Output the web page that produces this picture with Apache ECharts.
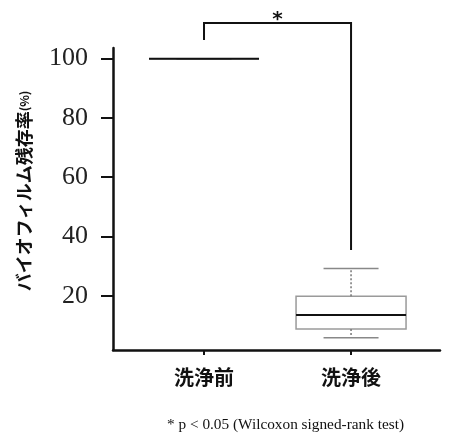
<!DOCTYPE html>
<html>
<head>
<meta charset="utf-8">
<script src="https://cdn.jsdelivr.net/npm/echarts@6/dist/echarts.min.js"></script>
<style>html,body{margin:0;padding:0;background:#fff}#c{width:449px;height:439px}</style>
</head>
<body>
<div id="c"></div>
<script>
const categories = ['洗浄前', '洗浄後'];
// [min, Q1, median, Q3, max]
const boxStats = [[100, 100, 100, 100, 100], [5.8, 8.8, 13.5, 19.8, 29.2]];
const yTicks = [20, 40, 60, 80, 100];
// significance bracket path in data space [categoryIndex, value]
const bracket = [[0, 106.3], [0, 112], [1, 112], [1, 35.4]];
const sigMark = '*';
const yName = 'バイオフィルム残存率';
const yUnit = '(%)';
const footnote = '* p < 0.05 (Wilcoxon signed-rank test)';

const chart = echarts.init(document.getElementById('c'), null, {renderer: 'canvas'});

const boxData = boxStats.map((s, i) => [i].concat(s));

chart.setOption({
  animation: false,
  backgroundColor: '#fff',
  grid: {left: 113, right: 9, top: 48, bottom: 89},
  xAxis: {
    type: 'value', min: -0.619, max: 1.605,
    splitLine: {show: false},
    axisLine: {show: true, onZero: false, lineStyle: {color: '#111', width: 2.5}},
    axisTick: {show: true, customValues: [0, 1], length: 5, lineStyle: {color: '#111', width: 2}},
    axisLabel: {
      customValues: [0, 1], margin: 17,
      formatter: v => categories[Math.round(v)] || '',
      fontFamily: 'Noto Sans CJK JP', fontWeight: 'bold', fontSize: 20, color: '#111'
    }
  },
  yAxis: {
    type: 'value', min: 1.7, max: 103.6,
    name: '{a|' + yName + '}{b|' + yUnit + '}',
    nameLocation: 'middle', nameGap: 80, nameRotate: 90,
    nameTextStyle: {
      padding: [0, 0, 0, 16],
      rich: {
        a: {fontFamily: 'Noto Sans CJK JP', fontWeight: 'bold', fontSize: 18, color: '#111'},
        b: {fontFamily: 'Noto Sans CJK JP', fontWeight: 'bold', fontSize: 12, color: '#111'}
      }
    },
    splitLine: {show: false},
    axisLine: {show: true, onZero: false, lineStyle: {color: '#111', width: 2.5}},
    axisTick: {show: true, customValues: yTicks, length: 12, lineStyle: {color: '#111', width: 2}},
    axisLabel: {
      customValues: yTicks, margin: 25,
      fontFamily: 'Liberation Serif', fontSize: 26, color: '#222'
    }
  },
  series: [
    {
      type: 'custom',
      data: boxData,
      clip: false,
      renderItem: function (params, api) {
        const x = api.value(0);
        const pMin = api.coord([x, api.value(1)]);
        const pQ1 = api.coord([x, api.value(2)]);
        const pMed = api.coord([x, api.value(3)]);
        const pQ3 = api.coord([x, api.value(4)]);
        const pMax = api.coord([x, api.value(5)]);
        const hw = 55, cw = 27.5, cx = pMed[0];
        const grey = '#9a9a9a';
        return {
          type: 'group',
          children: [
            {type: 'rect', shape: {x: cx - hw, y: pQ3[1], width: 2 * hw, height: pQ1[1] - pQ3[1]},
              style: {fill: '#fff', stroke: grey, lineWidth: 1.5}},
            {type: 'line', shape: {x1: cx, y1: pQ3[1], x2: cx, y2: pMax[1]},
              style: {stroke: '#777', lineWidth: 1.5, lineDash: [2, 2]}},
            {type: 'line', shape: {x1: cx, y1: pQ1[1], x2: cx, y2: pMin[1]},
              style: {stroke: '#777', lineWidth: 1.5, lineDash: [2, 2]}},
            {type: 'line', shape: {x1: cx - cw, y1: pMax[1], x2: cx + cw, y2: pMax[1]},
              style: {stroke: '#888', lineWidth: 1.5}},
            {type: 'line', shape: {x1: cx - cw, y1: pMin[1], x2: cx + cw, y2: pMin[1]},
              style: {stroke: '#888', lineWidth: 1.5}},
            {type: 'line', shape: {x1: cx - hw, y1: pMed[1], x2: cx + hw, y2: pMed[1]},
              style: {stroke: '#111', lineWidth: 2}}
          ]
        };
      }
    },
    {
      type: 'custom',
      data: [0],
      clip: false,
      renderItem: function (params, api) {
        const pts = bracket.map(p => api.coord(p));
        const top = pts[1][1];
        const mid = (pts[1][0] + pts[2][0]) / 2;
        return {
          type: 'group',
          children: [
            {type: 'polyline', shape: {points: pts}, style: {stroke: '#111', lineWidth: 2, fill: null}},
            {type: 'text', x: mid, y: top + 7,
              style: {text: sigMark, textAlign: 'center', textVerticalAlign: 'bottom',
                font: 'bold 20px "DejaVu Sans"', fill: '#111'}}
          ]
        };
      }
    }
  ],
  graphic: [
    {type: 'text', left: 167, top: 417,
      style: {text: footnote, font: '15.3px "Liberation Serif"', fill: '#111'}}
  ]
});
</script>
</body>
</html>
